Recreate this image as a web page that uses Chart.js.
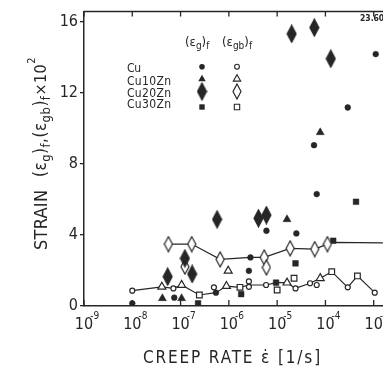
<!DOCTYPE html>
<html>
<head>
<meta charset="utf-8">
<script src="https://cdn.jsdelivr.net/npm/chart.js@4.4.1/dist/chart.umd.min.js"></script>
<style>
    html, body { margin: 0; padding: 0; background: #fff; overflow: hidden; }
    #wrap { width: 430px; height: 368px; }
</style>
</head>
<body>
<div id="wrap"><canvas id="grafico" width="430" height="368"></canvas></div>
<script>
// --- DADOS (taxa de fluência [1/s] e deformação x10^2) ---
const cuTaxaG   = [1.0e-8, 7.4e-8, 5.4e-7, 2.8e-6, 2.6e-6, 6.0e-6, 2.5e-5, 6.6e-5, 5.8e-5, 2.9e-4, 1.1e-3];
const cuDefG    = [0.15, 0.47, 0.75, 2.73, 1.98, 4.23, 4.08, 6.29, 9.04, 11.16, 14.16];
const cuTaxaGB  = [1.0e-8, 7.1e-8, 4.9e-7, 2.6e-6, 2.6e-6, 5.9e-6, 2.4e-5, 4.8e-5, 6.6e-5, 2.9e-4, 1.05e-3];
const cuDefGB   = [0.86, 0.99, 1.05, 1.08, 1.38, 1.18, 0.99, 1.28, 1.18, 1.05, 0.75];

const cu10TaxaG  = [4.2e-8, 1.05e-7, 1.6e-5, 7.8e-5];
const cu10DefG   = [0.43, 0.43, 4.87, 9.76];
const cu10TaxaGB = [4.1e-8, 1.05e-7, 8.9e-7, 9.7e-7, 1.6e-5, 7.8e-5];
const cu10DefGB  = [1.08, 1.18, 1.12, 1.98, 1.31, 1.56];

const cu20TaxaG  = [5.4e-8, 1.23e-7, 1.74e-7, 5.7e-7, 4.1e-6, 6.0e-6, 2.0e-5, 5.9e-5, 1.29e-4];
const cu20DefG   = [1.65, 2.68, 1.80, 4.87, 4.93, 5.11, 15.3, 15.65, 13.9];
const cu20TaxaGB = [5.6e-8, 1.7e-7, 1.23e-7, 6.6e-7, 5.4e-6, 6.0e-6, 1.86e-5, 6.0e-5, 1.1e-4];
const cu20DefGB  = [3.48, 3.48, 2.21, 2.62, 2.73, 2.17, 3.24, 3.20, 3.48];

const cu30TaxaG  = [2.3e-7, 1.8e-6, 9.5e-6, 2.4e-5, 1.45e-4, 4.3e-4];
const cu30DefG   = [0.15, 0.67, 1.31, 2.40, 3.67, 5.86];
const cu30TaxaGB = [2.45e-7, 1.7e-6, 1.0e-5, 2.24e-5, 1.35e-4, 4.6e-4];
const cu30DefGB  = [0.62, 1.05, 0.90, 1.56, 1.93, 1.69];

// linhas de tendência desenhadas à mão
const linhaSupX = [5.6e-8, 1.7e-7, 6.6e-7, 2.8e-6, 5.4e-6, 1.86e-5, 6.0e-5, 1.1e-4, 1.45e-4, 1.55e-3];
const linhaSupY = [3.48, 3.48, 2.62, 2.73, 2.73, 3.24, 3.20, 3.48, 3.58, 3.55];
const linhaInfX = [1.0e-8, 4.1e-8, 7.1e-8, 1.05e-7, 2.45e-7, 5.4e-7, 8.9e-7, 1.7e-6, 2.6e-6, 5.9e-6, 9.5e-6, 1.6e-5, 2.4e-5, 4.8e-5, 7.8e-5, 1.35e-4, 2.9e-4, 4.6e-4, 1.05e-3];
const linhaInfY = [0.86, 1.08, 0.99, 1.18, 0.62, 0.75, 1.12, 1.05, 1.18, 1.18, 1.31, 1.31, 0.99, 1.28, 1.56, 1.93, 1.05, 1.69, 0.75];

const DECADAS = [-9, -8, -7, -6, -5, -4, -3];
const TICKS_Y = [0, 4, 8, 12, 16];
const LEGENDA = ['Cu', 'Cu10Zn', 'Cu20Zn', 'Cu30Zn'];

const COR = '#262626';
const FONTE = '"Liberation Sans Narrow", "DejaVu Sans Condensed", "Liberation Sans", sans-serif';

/**
 * Losango alongado (não existe no Chart.js)
 */
function criaLosango(w, h, cheio) {
    const c = document.createElement('canvas');
    c.width = w + 2; c.height = h + 2;
    const g = c.getContext('2d');
    g.beginPath();
    g.moveTo(c.width / 2, 1);
    g.lineTo(c.width - 1, c.height / 2);
    g.lineTo(c.width / 2, c.height - 1);
    g.lineTo(1, c.height / 2);
    g.closePath();
    g.fillStyle = cheio ? COR : '#fff';
    g.fill();
    g.lineWidth = 1.2;
    g.strokeStyle = COR;
    g.stroke();
    return c;
}
const losangoCheio = criaLosango(9, 17, true);
const losangoVazio = criaLosango(8, 15, false);

function pontos(xs, ys) {
    return xs.map((v, i) => ({ x: v, y: ys[i] }));
}

function serie(xs, ys, estilo, raio, cheio) {
    return {
        data: pontos(xs, ys),
        pointStyle: estilo,
        pointRadius: raio,
        backgroundColor: cheio ? COR : '#fff',
        borderColor: COR,
        borderWidth: cheio ? 0.5 : 1.2,
        showLine: false,
        order: 0
    };
}

function linha(xs, ys) {
    return {
        data: pontos(xs, ys),
        showLine: true,
        borderColor: COR,
        borderWidth: 1.2,
        pointRadius: 0,
        tension: 0,
        order: 10
    };
}

// texto em pedaços (subscritos / sobrescritos), opcionalmente esticado até 'largura'
function textoPartes(ctx, partes, x, y, largura) {
    let esp = 0;
    if (largura) {
        let w = 0, n = 0;
        partes.forEach(p => {
            ctx.font = p.tam + 'px ' + FONTE;
            w += ctx.measureText(p.t).width;
            n += [...p.t].length;
        });
        esp = (largura - w) / n;
    }
    let cx = x;
    partes.forEach(p => {
        ctx.font = p.tam + 'px ' + FONTE;
        ctx.letterSpacing = esp + 'px';
        ctx.fillText(p.t, cx, y + (p.dy || 0));
        ctx.letterSpacing = '0px';
        cx += ctx.measureText(p.t).width + esp * [...p.t].length;
    });
    return cx - x;
}

function textoLargura(ctx, txt, x, y, largura) {
    ctx.letterSpacing = '0px';
    const w = ctx.measureText(txt).width;
    const esp = (largura - w) / (txt.length - 1);
    ctx.letterSpacing = esp + 'px';
    ctx.fillText(txt, x, y);
    ctx.letterSpacing = '0px';
}

// Plugin: moldura, marcas, rótulos e legenda
const desenhoExtra = {
    id: 'desenhoExtra',
    afterDraw(chart) {
        const { ctx, chartArea: a, scales: { x } } = chart;
        ctx.save();
        ctx.strokeStyle = COR;
        ctx.fillStyle = COR;
        ctx.lineWidth = 1.5;

        // borda superior
        ctx.beginPath();
        ctx.moveTo(a.left, a.top);
        ctx.lineTo(a.right, a.top);
        ctx.stroke();

        // marcas das décadas e rótulos 10^n
        DECADAS.forEach(e => {
            const px = x.getPixelForValue(Math.pow(10, e));
            ctx.lineWidth = 1.3;
            ctx.beginPath();
            ctx.moveTo(px, a.top); ctx.lineTo(px, a.top + 5);
            ctx.moveTo(px, a.bottom); ctx.lineTo(px, a.bottom - 6);
            ctx.stroke();

            ctx.textAlign = 'center';
            ctx.textBaseline = 'alphabetic';
            ctx.font = '16px ' + FONTE;
            ctx.fillText('10', px, 329);
            const w = ctx.measureText('10').width;
            ctx.textAlign = 'left';
            ctx.font = '10px ' + FONTE;
            ctx.fillText('-' + Math.abs(e), px + w / 2 - 3, 319);
        });

        // título do eixo x
        ctx.textAlign = 'left';
        ctx.font = '17px ' + FONTE;
        textoLargura(ctx, 'CREEP RATE ε̇ [1/s]', 143, 363, 179);

        // título do eixo y (rotacionado)
        ctx.save();
        ctx.translate(47, 250);
        ctx.rotate(-Math.PI / 2);
        ctx.font = '18px ' + FONTE;
        textoLargura(ctx, 'STRAIN', 0, 0, 60);
        textoPartes(ctx, [
            { t: '(ε', tam: 17 }, { t: 'g', tam: 13, dy: 4 }, { t: ')', tam: 17 }, { t: 'f', tam: 13, dy: 4 },
            { t: ',(ε', tam: 17 }, { t: 'gb', tam: 13, dy: 4 }, { t: ')', tam: 17 }, { t: 'f', tam: 13, dy: 4 },
            { t: '×10', tam: 16 }, { t: '2', tam: 11, dy: -11 }
        ], 73, -1, 120);
        ctx.restore();

        // legenda
        ctx.font = '12px ' + FONTE;
        const linhasY = [72, 84.5, 96.5, 108];
        LEGENDA.forEach((t, i) => textoLargura(ctx, t, 127, linhasY[i], t.length > 2 ? 44 : 14));

        textoPartes(ctx, [{ t: '(ε', tam: 13 }, { t: 'g', tam: 10, dy: 3 }, { t: ')', tam: 13 }, { t: 'f', tam: 10, dy: 3 }], 185, 46);
        textoPartes(ctx, [{ t: '(ε', tam: 13 }, { t: 'gb', tam: 10, dy: 3 }, { t: ')', tam: 13 }, { t: 'f', tam: 10, dy: 3 }], 222, 46);

        const simbolos = [
            { y: 66.7, cheio: { pointStyle: 'circle', radius: 2.8 }, vazio: { pointStyle: 'circle', radius: 2.4 } },
            { y: 79,   cheio: { pointStyle: 'triangle', radius: 4.3 }, vazio: { pointStyle: 'triangle', radius: 4.3 } },
            { y: 91.5, cheio: { pointStyle: losangoCheio, radius: 5 }, vazio: { pointStyle: losangoVazio, radius: 5 } },
            { y: 107,  cheio: { pointStyle: 'rect', radius: 3.8 }, vazio: { pointStyle: 'rect', radius: 3.8 } }
        ];
        simbolos.forEach(s => {
            ctx.lineWidth = 1.1;
            ctx.fillStyle = COR;
            Chart.helpers.drawPoint(ctx, { ...s.cheio, rotation: 0, borderWidth: 0 }, 202, s.y);
            ctx.fillStyle = '#fff';
            Chart.helpers.drawPoint(ctx, { ...s.vazio, rotation: 0, borderWidth: 1.1 }, 237, s.y);
        });

        // valor fora da escala
        ctx.fillStyle = COR;
        ctx.font = 'bold 8.5px ' + FONTE;
        ctx.fillText('23.60', 360, 21);
        ctx.restore();
    }
};

Chart.defaults.font.family = FONTE;
Chart.defaults.color = COR;

new Chart(document.getElementById('grafico'), {
    type: 'scatter',
    data: {
        datasets: [
            serie(cuTaxaG, cuDefG, 'circle', 2.9, true),
            serie(cuTaxaGB, cuDefGB, 'circle', 2.5, false),
            serie(cu10TaxaG, cu10DefG, 'triangle', 4.6, true),
            serie(cu10TaxaGB, cu10DefGB, 'triangle', 4.6, false),
            serie(cu20TaxaG, cu20DefG, losangoCheio, 5, true),
            serie(cu20TaxaGB, cu20DefGB, losangoVazio, 5, false),
            serie(cu30TaxaG, cu30DefG, 'rect', 4, true),
            serie(cu30TaxaGB, cu30DefGB, 'rect', 4, false),
            linha(linhaSupX, linhaSupY),
            linha(linhaInfX, linhaInfY)
        ]
    },
    options: {
        responsive: false,
        animation: false,
        events: [],
        layout: { padding: { top: 11, right: 8, left: 0, bottom: 0 } },
        plugins: {
            legend: { display: false },
            tooltip: { enabled: false }
        },
        scales: {
            x: {
                type: 'logarithmic',
                min: 1e-9,
                max: 1e-2,
                grid: { display: false },
                ticks: { display: false },
                border: { display: true, color: COR, width: 1.5 },
                afterFit: (s) => { s.height = 62; }
            },
            y: {
                min: 0,
                max: 16.55,
                afterBuildTicks: (s) => { s.ticks = TICKS_Y.map(v => ({ value: v })); },
                ticks: { font: { size: 16 }, color: COR, padding: 2 },
                grid: { drawOnChartArea: false, drawTicks: true, tickLength: 4, color: COR, lineWidth: 1.3 },
                border: { display: true, color: COR, width: 1.5 },
                afterFit: (s) => { s.width = 84; }
            }
        }
    },
    plugins: [desenhoExtra]
});
</script>
</body>
</html>
